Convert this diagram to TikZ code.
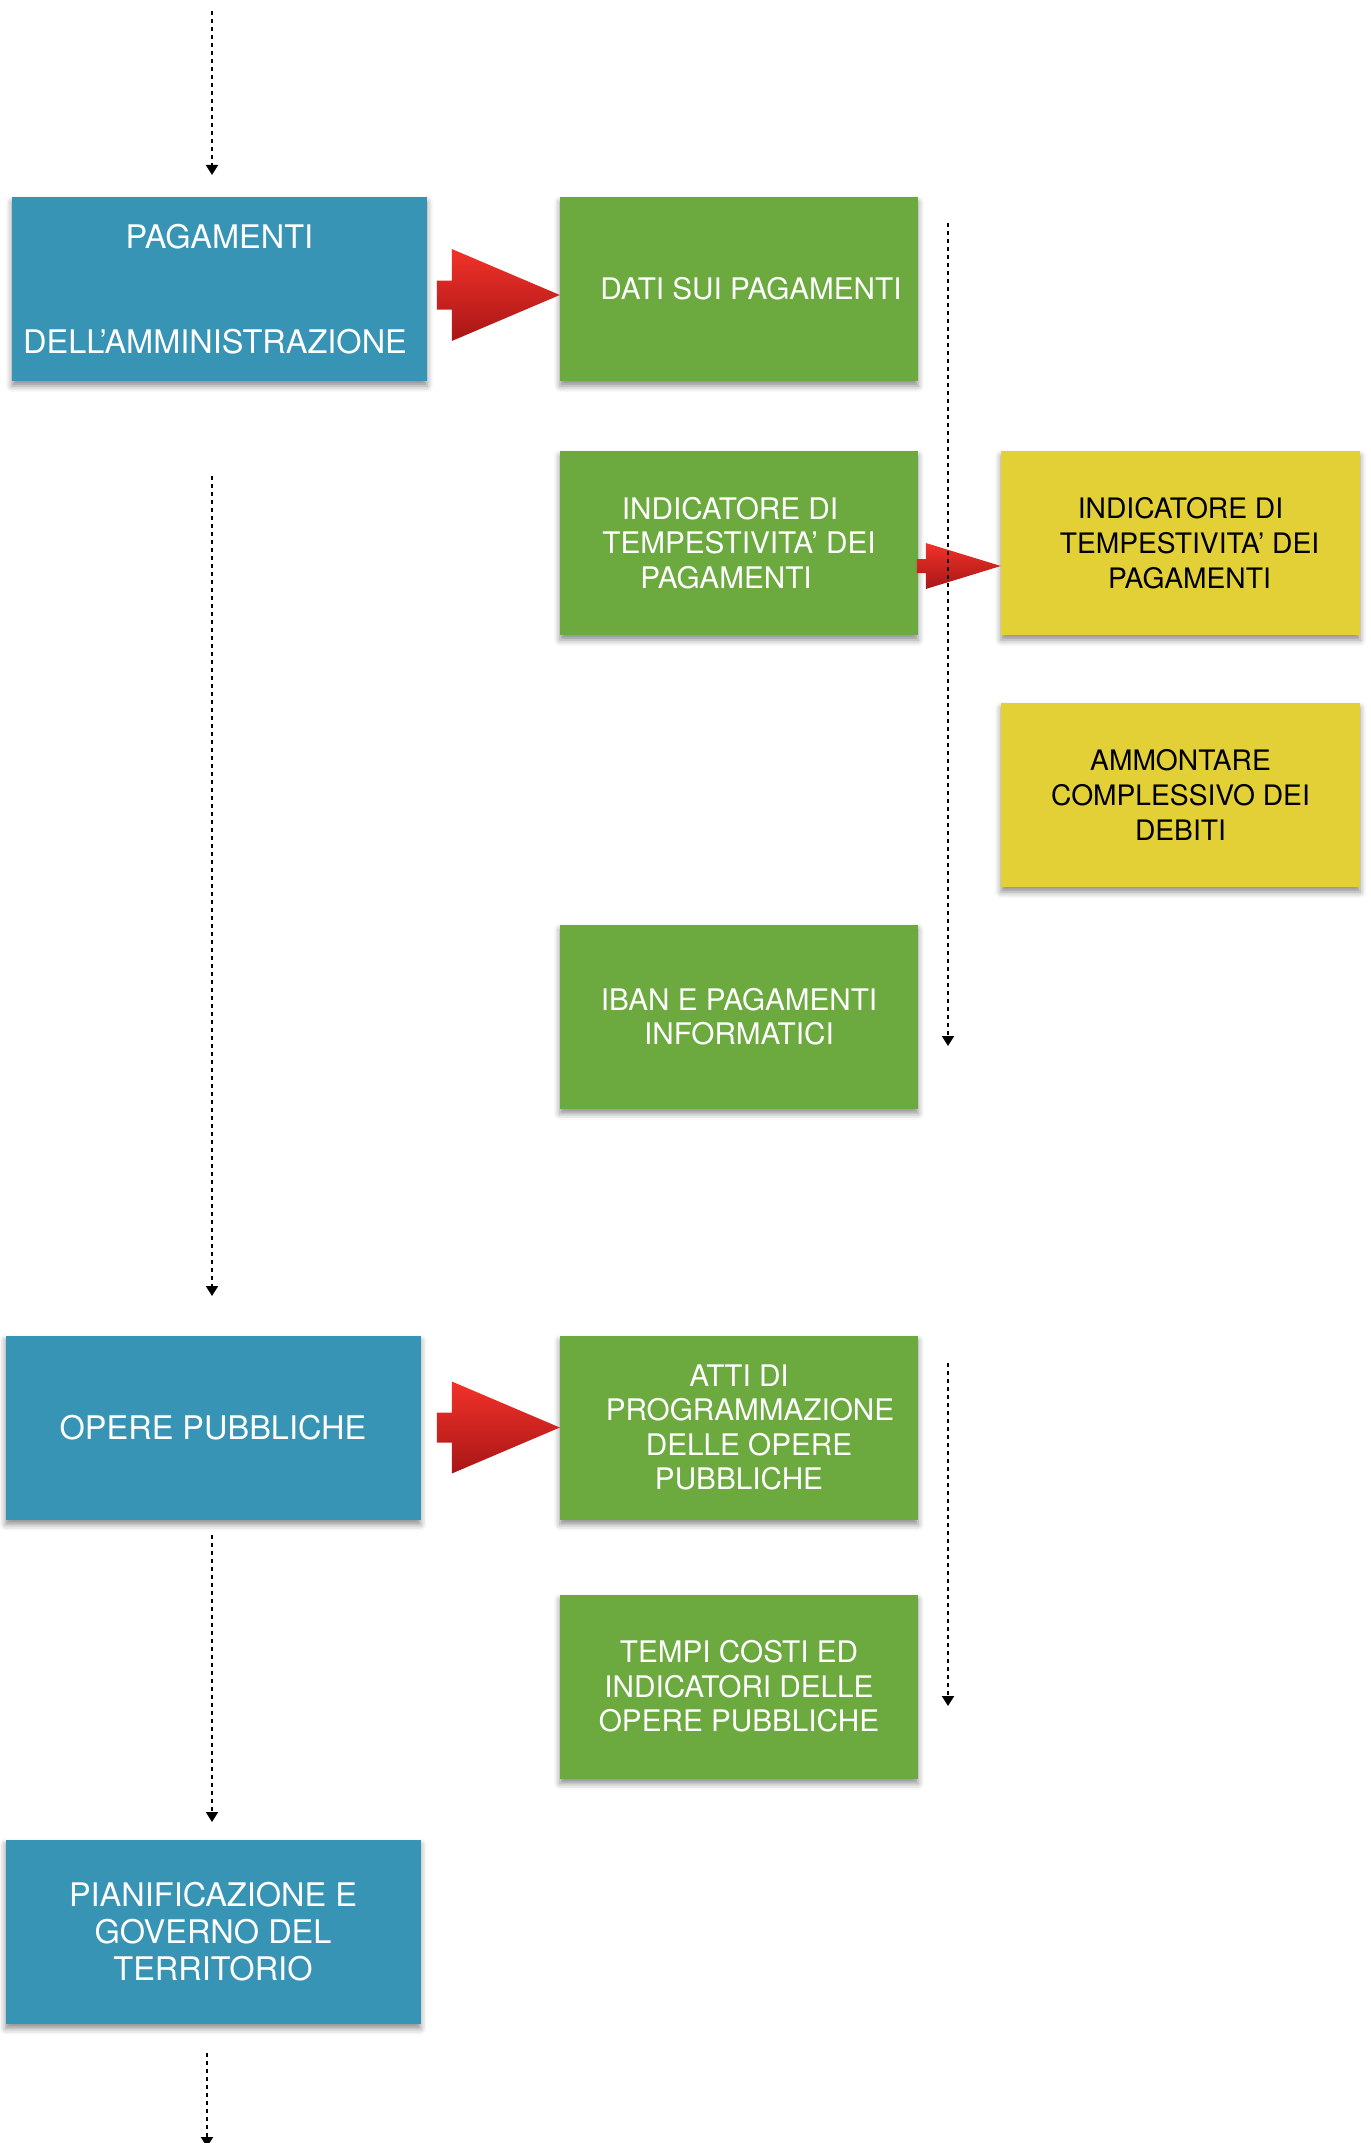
\documentclass[tikz,border=0pt]{standalone}
\usepackage{fontspec}
\setmainfont{TeX Gyre Heros}
\usetikzlibrary{arrows.meta,calc,shadows.blur}
\definecolor{boxblue}{HTML}{3794B4}
\definecolor{boxgreen}{HTML}{6CAA40}
\definecolor{boxyellow}{HTML}{E2D036}
\definecolor{arrowtop}{HTML}{F2322A}
\definecolor{arrowbot}{HTML}{A81616}
\begin{document}
\begin{tikzpicture}[x=1pt,y=-1pt,
  box/.style={rectangle, inner sep=0pt, align=center, minimum height=184pt,
     blur shadow={shadow xshift=0pt, shadow yshift=-5pt, shadow blur radius=6pt, shadow opacity=45}},
  bluebox/.style={box, fill=boxblue, text=white, minimum width=415pt, font=\fontsize{32.5}{37}\selectfont},
  greenbox/.style={box, fill=boxgreen, text=white, minimum width=358pt, font=\fontsize{29.7}{34.5}\selectfont},
  yellowbox/.style={box, fill=boxyellow, text=black, minimum width=359pt, font=\fontsize{28.2}{35}\selectfont},
  flow/.style={line width=2pt, dash pattern=on 4pt off 4pt, -{Triangle[width=12pt,length=10pt]}},
  redarrow/.style={top color=arrowtop, bottom color=arrowbot, draw=none}
]
\useasboundingbox (0,0) rectangle (1370,2143);

% boxes
\node[bluebox] (b1) at (219.5,289) {PAGAMENTI\\[68pt]DELL’AMMINISTRAZIONE\hspace*{9pt}};
\node[greenbox] (g1) at (739,289) {\hspace*{24pt}DATI SUI PAGAMENTI};
\node[greenbox] (g2) at (739,543) {INDICATORE DI\hspace*{18pt}\\TEMPESTIVITA’ DEI\hspace*{26pt}\\PAGAMENTI\hspace*{26pt}};
\node[yellowbox] (y1) at (1180.5,543) {INDICATORE DI\\\hspace*{18pt}TEMPESTIVITA’ DEI\\\hspace*{18pt}PAGAMENTI};
\node[yellowbox] (y2) at (1180.5,795) {AMMONTARE\\COMPLESSIVO DEI\\DEBITI};
\node[greenbox] (g3) at (739,1016.5) {IBAN E PAGAMENTI\\INFORMATICI};
\node[bluebox] (b2) at (213,1427.5) {OPERE PUBBLICHE};
\node[greenbox] (g4) at (739,1427.5) {ATTI DI\\\hspace*{22pt}PROGRAMMAZIONE\\\hspace*{20pt}DELLE OPERE\\PUBBLICHE};
\node[greenbox] (g5) at (739,1686.5) {TEMPI COSTI ED\\INDICATORI DELLE\\OPERE PUBBLICHE};
\node[bluebox] (b3) at (213,1931.5) {PIANIFICAZIONE E\\GOVERNO DEL\\TERRITORIO};

% red arrows
\shade[redarrow] ($(g1.west)+(-123,-8.5)$) -- ($(g1.west)+(-108,-8.5)$) -- ($(g1.west)+(-108,-40)$)
  -- ($(g1.west)+(0,6)$) -- ($(g1.west)+(-108,52)$) -- ($(g1.west)+(-108,20.5)$) -- ($(g1.west)+(-123,20.5)$) -- cycle;
\shade[redarrow] ($(y1.west)+(-84,16)$) -- ($(y1.west)+(-75,16)$) -- ($(y1.west)+(-75,0)$)
  -- ($(y1.west)+(0,23)$) -- ($(y1.west)+(-75,46)$) -- ($(y1.west)+(-75,30)$) -- ($(y1.west)+(-84,30)$) -- cycle;
\shade[redarrow] ($(g4.west)+(-123,-15)$) -- ($(g4.west)+(-108,-15)$) -- ($(g4.west)+(-108,-46)$)
  -- (g4.west) -- ($(g4.west)+(-108,46)$) -- ($(g4.west)+(-108,15)$) -- ($(g4.west)+(-123,15)$) -- cycle;

% dotted flow lines
\coordinate (t0) at (212,11);
\coordinate (t1) at (212,175);
\coordinate (l1s) at (212,476);
\coordinate (l1e) at (212,1296);
\coordinate (r1s) at (948,223);
\coordinate (r1e) at (948,1046);
\coordinate (r2s) at (948,1363);
\coordinate (r2e) at (948,1706);
\coordinate (l2s) at (212,1535);
\coordinate (l2e) at (212,1822);
\coordinate (bs) at (207,2053);
\coordinate (be) at (207,2147);
\draw[flow] (t0) -- (t1);
\draw[flow] (l1s) -- (l1e);
\draw[flow] (r1s) -- (r1e);
\draw[flow] (r2s) -- (r2e);
\draw[flow] (l2s) -- (l2e);
\draw[flow] (bs) -- (be);
\end{tikzpicture}
\end{document}
